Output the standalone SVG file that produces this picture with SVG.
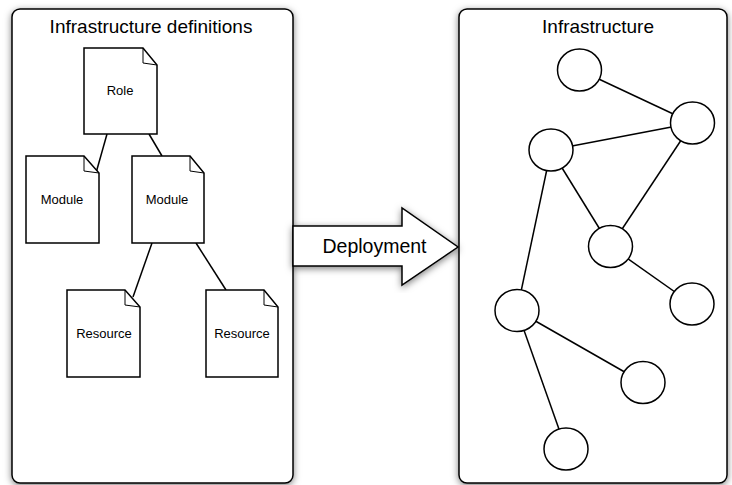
<svg xmlns="http://www.w3.org/2000/svg" width="732" height="485" viewBox="0 0 732 485">
<defs>
<filter id="sh" x="-10%" y="-10%" width="120%" height="120%">
<feDropShadow dx="0" dy="2" stdDeviation="3.5" flood-color="#000" flood-opacity="0.5"/>
</filter>
<style>
.panel{fill:#fff;stroke:#000;stroke-width:1.5}
.doc{fill:#fff;stroke:#000;stroke-width:1.5;stroke-linejoin:miter}
.fold{fill:none;stroke:#000;stroke-width:1}
.node{fill:#fff;stroke:#000;stroke-width:1.5}
.edge{stroke:#000;stroke-width:1.5;fill:none}
.t{font-family:"Liberation Sans",Arial,sans-serif;fill:#000;text-anchor:middle}
.title{font-size:19px}
.lbl{font-size:13px}
</style>
</defs>
<rect width="732" height="485" fill="#fff"/>
<g id="panel-definitions">
<rect class="panel" x="12" y="9" width="281" height="474" rx="8" filter="url(#sh)"/>
<text class="t title" x="151" y="33">Infrastructure definitions</text>
</g>
<g id="panel-infrastructure">
<rect class="panel" x="459" y="9" width="268" height="474" rx="8" filter="url(#sh)"/>
<text class="t title" x="598" y="33">Infrastructure</text>
</g>
<g id="deployment-arrow">
<path class="panel" d="M293,226 H402 V208 L458,247 L402,285 V266 H293 Z" filter="url(#sh)"/>
<text class="t title" x="374.5" y="253" style="font-size:19.5px">Deployment</text>
</g>
<g id="connectors">
<line class="edge" x1="107" y1="134" x2="96" y2="173"/>
<line class="edge" x1="149" y1="134" x2="162" y2="156"/>
<line class="edge" x1="152" y1="243" x2="133" y2="297"/>
<line class="edge" x1="196" y1="243" x2="226" y2="290"/>
<line class="edge" x1="579.5" y1="70" x2="692.5" y2="123"/>
<line class="edge" x1="551" y1="150" x2="692.5" y2="123"/>
<line class="edge" x1="692.5" y1="123" x2="610.5" y2="246.5"/>
<line class="edge" x1="551" y1="150" x2="610.5" y2="246.5"/>
<line class="edge" x1="551" y1="150" x2="517" y2="310.5"/>
<line class="edge" x1="610.5" y1="246.5" x2="692" y2="304"/>
<line class="edge" x1="517" y1="310.5" x2="643" y2="382.5"/>
<line class="edge" x1="517" y1="310.5" x2="566" y2="449"/>
</g>
<g id="doc-role">
<path class="doc" d="M84,48 H143 L157,65 V134 H84 Z"/>
<path class="fold" d="M143,48 V63 L157,65"/>
<text class="t lbl" x="120" y="95">Role</text>
</g>
<g id="doc-module-left">
<path class="doc" d="M26,156 H84 L99,173 V243 H26 Z"/>
<path class="fold" d="M84,156 V171 L99,173"/>
<text class="t lbl" x="62" y="204">Module</text>
</g>
<g id="doc-module-right">
<path class="doc" d="M132,156 H190 L204,173 V243 H132 Z"/>
<path class="fold" d="M190,156 V171 L204,173"/>
<text class="t lbl" x="167" y="204">Module</text>
</g>
<g id="doc-resource-left">
<path class="doc" d="M67,290 H125 L140,307 V377 H67 Z"/>
<path class="fold" d="M125,290 V305 L140,307"/>
<text class="t lbl" x="104" y="338">Resource</text>
</g>
<g id="doc-resource-right">
<path class="doc" d="M206,290 H264 L278,307 V377 H206 Z"/>
<path class="fold" d="M264,290 V305 L278,307"/>
<text class="t lbl" x="242" y="338">Resource</text>
</g>
<g id="node-1"><ellipse class="node" cx="579.5" cy="70" rx="22" ry="21"/></g>
<g id="node-2"><ellipse class="node" cx="692.5" cy="123" rx="22" ry="21"/></g>
<g id="node-3"><ellipse class="node" cx="551" cy="150" rx="22" ry="21"/></g>
<g id="node-4"><ellipse class="node" cx="610.5" cy="246.5" rx="22" ry="21"/></g>
<g id="node-5"><ellipse class="node" cx="692" cy="304" rx="22" ry="21"/></g>
<g id="node-6"><ellipse class="node" cx="517" cy="310.5" rx="22" ry="21"/></g>
<g id="node-7"><ellipse class="node" cx="643" cy="382.5" rx="22" ry="21"/></g>
<g id="node-8"><ellipse class="node" cx="566" cy="449" rx="22" ry="21"/></g>
</svg>
